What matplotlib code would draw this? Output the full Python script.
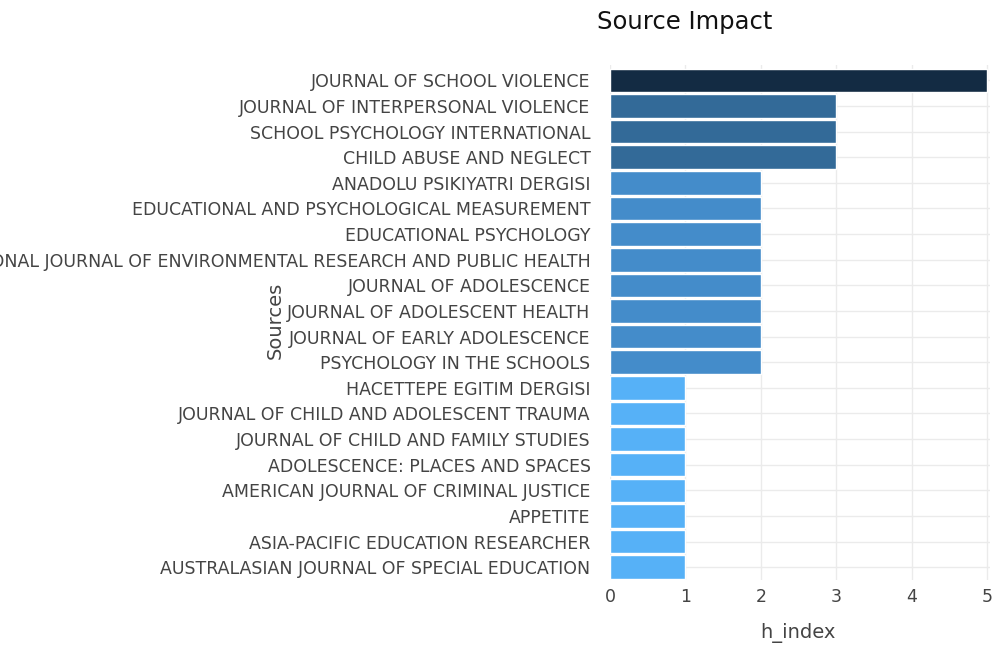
import matplotlib.pyplot as plt
from matplotlib.colors import LinearSegmentedColormap, Normalize

# Source impact data (top to bottom)
sources = [
    'JOURNAL OF SCHOOL VIOLENCE',
    'JOURNAL OF INTERPERSONAL VIOLENCE',
    'SCHOOL PSYCHOLOGY INTERNATIONAL',
    'CHILD ABUSE AND NEGLECT',
    'ANADOLU PSIKIYATRI DERGISI',
    'EDUCATIONAL AND PSYCHOLOGICAL MEASUREMENT',
    'EDUCATIONAL PSYCHOLOGY',
    'INTERNATIONAL JOURNAL OF ENVIRONMENTAL RESEARCH AND PUBLIC HEALTH',
    'JOURNAL OF ADOLESCENCE',
    'JOURNAL OF ADOLESCENT HEALTH',
    'JOURNAL OF EARLY ADOLESCENCE',
    'PSYCHOLOGY IN THE SCHOOLS',
    'HACETTEPE EGITIM DERGISI',
    'JOURNAL OF CHILD AND ADOLESCENT TRAUMA',
    'JOURNAL OF CHILD AND FAMILY STUDIES',
    'ADOLESCENCE: PLACES AND SPACES',
    'AMERICAN JOURNAL OF CRIMINAL JUSTICE',
    'APPETITE',
    'ASIA-PACIFIC EDUCATION RESEARCHER',
    'AUSTRALASIAN JOURNAL OF SPECIAL EDUCATION',
]
h_index = [5, 3, 3, 3, 2, 2, 2, 2, 2, 2, 2, 2, 1, 1, 1, 1, 1, 1, 1, 1]

# gradient like the reference (light blue -> dark navy)
cmap = LinearSegmentedColormap.from_list(
    'src', [(0.0, '#56B1F7'), (0.25, '#448CCA'), (0.5, '#336A98'), (1.0, '#132B43')])
norm = Normalize(vmin=1, vmax=5)

fig = plt.figure(figsize=(9.93, 6.45), dpi=100)
ax = fig.add_axes([0.6143, 0.1008, 0.3827, 0.7984])

ypos = list(range(len(sources)))
ax.barh(ypos, h_index, height=0.92, color=[cmap(norm(v)) for v in h_index],
        edgecolor='white', linewidth=1, zorder=3)

ax.set_xlim(0, 5.04)
ax.set_ylim(len(sources) - 0.5, -0.6)
ax.set_xticks([0, 1, 2, 3, 4, 5])
ax.set_yticks(ypos)
ax.set_yticklabels(sources)

ax.grid(True, color='#ebebeb', linewidth=1, zorder=0)
for s in ax.spines.values():
    s.set_visible(False)
ax.tick_params(axis='both', length=0, colors='#444444', labelsize=12.5)
ax.tick_params(axis='y', pad=14)
ax.tick_params(axis='x', pad=6)

ax.set_xlabel('h_index', fontsize=14, color='#444444')
ax.xaxis.set_label_coords(0.495, -0.083)
ax.set_ylabel('Sources', fontsize=14, color='#444444')
ax.yaxis.set_label_coords(-0.855, 0.505)

fig.text(685 / 993, 1 - 22 / 645, 'Source Impact', fontsize=17.5, color='#111111',
         ha='center', va='center')

fig.savefig('out.png', dpi=100)
